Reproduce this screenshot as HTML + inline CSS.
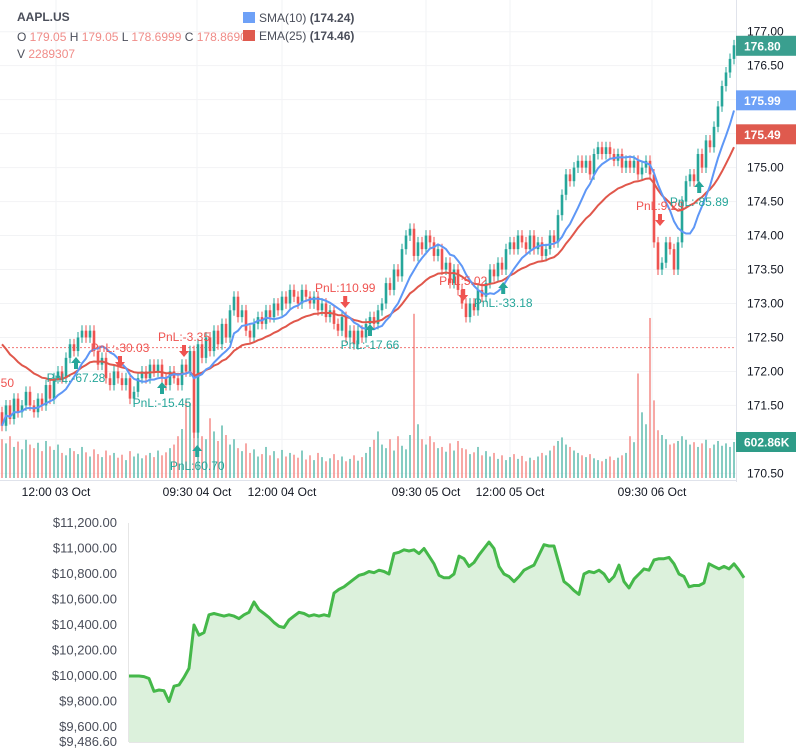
<!DOCTYPE html>
<html><head><meta charset="utf-8">
<style>
html,body{margin:0;padding:0;background:#fff;width:796px;height:750px;overflow:hidden;font-family:"Liberation Sans",sans-serif;}
svg{display:block}
</style></head>
<body>
<svg id="chart" width="796" height="750" xmlns="http://www.w3.org/2000/svg"></svg>
<script>
// ---- data ----
const closes=[171.2,171.5,171.3,171.6,171.4,171.5,171.7,171.5,171.4,171.6,171.5,171.8,171.6,171.9,172.0,171.9,172.2,172.4,172.3,172.5,
172.6,172.5,172.6,172.3,172.1,172.2,171.9,171.8,172.0,171.9,171.8,171.9,171.6,171.7,171.9,172.0,171.9,172.1,172.0,172.1,
171.9,171.8,172.0,171.9,171.8,172.1,172.0,172.3,171.1,172.4,172.2,172.5,172.3,172.6,172.4,172.7,172.5,172.9,173.1,172.8,
172.9,172.6,172.5,172.7,172.8,172.7,172.9,172.8,173.0,172.9,173.1,173.0,173.2,173.1,173.0,173.2,173.1,173.0,173.1,172.9,
173.0,172.8,172.9,172.7,172.6,172.8,172.5,172.6,172.4,172.6,172.5,172.7,172.8,172.7,172.9,173.0,173.3,173.2,173.5,173.4,
173.8,174.0,174.1,173.7,173.9,173.8,174.0,173.9,173.7,173.8,173.5,173.6,173.3,173.5,173.2,173.0,172.8,173.0,172.9,173.2,
173.1,173.3,173.5,173.4,173.6,173.5,173.8,173.9,173.8,174.0,173.9,173.8,174.0,173.8,173.9,173.7,173.8,174.0,173.9,174.3,
174.6,174.9,174.8,175.0,175.1,175.0,175.1,174.9,175.2,175.3,175.2,175.3,175.2,175.1,175.2,175.0,175.1,175.0,175.1,174.9,
175.0,175.1,174.9,173.9,173.5,173.6,173.9,173.8,173.5,173.9,174.5,174.8,174.9,174.8,175.2,175.0,175.4,175.3,175.6,175.9,
176.2,176.4,176.6,176.8];
const firstOpen=171.4;
const volumes=[650,580,700,520,610,480,640,560,500,590,450,620,530,470,560,420,380,500,450,400,
520,430,360,480,400,350,460,380,420,340,390,300,450,360,410,330,380,420,350,460,
380,430,500,560,700,820,1300,1250,1500,900,700,650,1000,780,620,880,720,560,650,500,
450,580,420,480,360,400,520,380,450,330,470,360,420,390,340,460,310,380,300,420,
350,280,330,400,300,360,280,320,380,290,350,420,520,640,780,560,500,650,460,700,
540,480,720,2750,900,650,560,700,600,500,520,440,580,460,620,500,480,400,430,520,
380,450,360,420,320,380,300,350,400,320,370,280,340,300,360,420,380,460,540,620,
680,560,520,460,420,380,350,400,330,300,280,320,360,300,340,380,420,700,600,1750,
1100,900,2680,1300,800,720,650,560,580,620,700,640,560,600,520,580,640,500,560,620,
540,580,520,603];
const timeLabels=["12:00 03 Oct","09:30 04 Oct","12:00 04 Oct","09:30 05 Oct","12:00 05 Oct","09:30 06 Oct"];
const timeIdx=[13.5,48.75,70,106,127,162.5];
const priceTicks=[170.5,171,171.5,172,172.5,173,173.5,174,174.5,175,175.5,176,176.5,177];
const trades=[
 {i:-3,side:"sell",label:"PnL:1.50"},{i:18.5,side:"buy",label:"PnL:-67.28"},{i:29.5,side:"sell",label:"PnL:-30.03"},
 {i:40,side:"buy",label:"PnL:-15.45"},{i:45.5,side:"sell",label:"PnL:-3.35"},{i:48.8,side:"buy",label:"PnL:60.70"},
 {i:85.8,side:"sell",label:"PnL:110.99"},{i:92,side:"buy",label:"PnL:-17.66"},{i:115.3,side:"sell",label:"PnL:5.02"},
 {i:125.3,side:"buy",label:"PnL:-33.18"},{i:164.5,side:"sell",label:"PnL:9.29"},{i:174.3,side:"buy",label:"PnL:-85.89"}];
const tradeY=[397,363,362,388,351,451,302,330,295,288,220,187];
const equity=[10000,10000,10000,9995,9980,9880,9890,9885,9800,9920,9930,9990,10060,10400,10320,10340,10480,10490,10480,10470,
10480,10470,10450,10480,10500,10580,10520,10490,10460,10420,10390,10380,10440,10470,10500,10490,10470,10480,10470,10480,
10470,10650,10680,10700,10730,10760,10790,10800,10820,10810,10830,10820,10800,10960,10970,10990,10980,10990,10960,11000,
10940,10880,10790,10770,10770,10800,10940,10920,10860,10890,10950,11000,11050,11000,10860,10800,10780,10740,10780,10830,
10850,10870,10950,11030,11020,11020,10880,10740,10710,10670,10640,10800,10820,10810,10830,10800,10740,10780,10870,10740,
10690,10760,10800,10840,10830,10910,10920,10920,10930,10880,10800,10780,10700,10710,10710,10730,10880,10860,10840,10860,
10840,10880,10830,10770];
const eqTicks=[9600,9800,10000,10200,10400,10600,10800,11000,11200];

// ---- helpers ----
const svg=document.getElementById('chart');
const NS="http://www.w3.org/2000/svg";
function mk(tag,attrs,parent){const e=document.createElementNS(NS,tag);for(const k in attrs)e.setAttribute(k,attrs[k]);(parent||svg).appendChild(e);return e;}
const PW=736;
const xBar=i=>2+i*4;
const yP=p=>31.7+(177-p)*67.95;
const yV=v=>478-v/602.86*36;
const GREEN="#26a69a",RED="#ef5350";

for(const t of priceTicks){const g=mk('line',{x1:0,x2:PW,y1:yP(t),y2:yP(t),stroke:"#f2f3f5","stroke-width":1});
}
timeIdx.forEach(ix=>{const g=mk('line',{x1:xBar(ix),x2:xBar(ix),y1:0,y2:480,stroke:"#f2f3f5"});
});

const volG=mk('g',{});
closes.forEach((c,i)=>{const o=i?closes[i-1]:firstOpen;const up=c>=o;
 const r=mk('rect',{x:xBar(i)-0.8,y:yV(volumes[i]),width:1.6,height:478-yV(volumes[i]),fill:up?"#68c0b4":"#f5928f"},volG);
 });

const dl=mk('line',{x1:0,x2:PW,y1:yP(172.35),y2:yP(172.35),stroke:"#ef5350","stroke-dasharray":"2,2","stroke-width":1,opacity:0.8});


const cG=mk('g',{});
closes.forEach((c,i)=>{const o=i?closes[i-1]:firstOpen;const up=c>=o;const col=up?GREEN:RED;
 const hi=Math.max(o,c)+0.08,lo=Math.min(o,c)-0.08;
 const w=mk('line',{x1:xBar(i),x2:xBar(i),y1:yP(hi),y2:yP(lo),stroke:col,"stroke-width":1},cG);
 
 const top=yP(Math.max(o,c)),h=Math.max(1,Math.abs(yP(o)-yP(c)));
 const b=mk('rect',{x:xBar(i)-1.3,y:top,width:2.6,height:h,fill:col},cG);
 });

let sma=[],ema=[];let e=172.5;const k=2/26;
closes.forEach((c,i)=>{const s=closes.slice(Math.max(0,i-9),i+1);sma.push(s.reduce((a,b)=>a+b,0)/s.length);e=c*k+e*(1-k);ema.push(e);});
const line=(arr)=>arr.map((v,i)=>(i?'L':'M')+xBar(i).toFixed(1)+','+yP(v).toFixed(1)).join('');
const emaP=mk('path',{d:line(ema),fill:"none",stroke:"#e0574b","stroke-width":2});

const smaP=mk('path',{d:line(sma),fill:"none",stroke:"#5e97f6","stroke-width":2});


trades.forEach((t,j)=>{const x=xBar(t.i),y=tradeY[j];const col=t.side==="buy"?GREEN:RED;
 const g=mk('g',{});
 if(t.side==="buy"){mk('path',{d:`M${x},${y-6} L${x+5},${y} L${x+2},${y} L${x+2},${y+6} L${x-2},${y+6} L${x-2},${y} L${x-5},${y}Z`,fill:col},g);
  const tx=mk('text',{x:x,y:y+19,fill:col,"font-size":12,"text-anchor":"middle","font-family":"Liberation Sans, sans-serif"},g);tx.textContent=t.label;}
 else{mk('path',{d:`M${x},${y+6} L${x+5},${y} L${x+2},${y} L${x+2},${y-6} L${x-2},${y-6} L${x-2},${y} L${x-5},${y}Z`,fill:col},g);
  const tx=mk('text',{x:x,y:y-10,fill:col,"font-size":12,"text-anchor":"middle","font-family":"Liberation Sans, sans-serif"},g);tx.textContent=t.label;}
});

const ax=mk('g',{});
mk('rect',{x:PW,y:0,width:60,height:482,fill:"#fff"},ax);
mk('line',{x1:PW+0.5,x2:PW+0.5,y1:0,y2:482,stroke:"#e0e3eb"},ax);
for(const t of priceTicks){const tx=mk('text',{x:747,y:yP(t)+4,fill:"#131722","font-size":12},ax);tx.textContent=t.toFixed(2);
 }
function badge(y,txt,col,name){const g=mk('g',{},ax);
 mk('rect',{x:PW,y:y-10,width:60,height:20,fill:col},g);
 const t=mk('text',{x:744,y:y+4.5,fill:"#fff","font-size":12,"font-weight":"bold"},g);t.textContent=txt;}
badge(yP(176.8)+0.5,"176.80","#3a9f8f",'last-price-badge');
badge(yP(175.99),"175.99","#6ea1f7",'sma-value-badge');
badge(yP(175.49),"175.49","#df5a4e",'ema-value-badge');
badge(442,"602.86K","#2e9c88",'volume-value-badge');

const tl=mk('line',{x1:0,x2:PW,y1:480.5,y2:480.5,stroke:"#e0e3eb"});

timeLabels.forEach((s,j)=>{const t=mk('text',{x:xBar(timeIdx[j]),y:496,fill:"#131722","font-size":12,"text-anchor":"middle"});t.textContent=s;
 });

const lg=mk('g',{});
let t=mk('text',{x:17,y:21,fill:"#4a4e5a","font-size":12,"font-weight":"bold"},lg);t.textContent="AAPL.US";

t=mk('text',{x:17,y:41,"font-size":12,fill:"#4a4e5a"},lg);
t.innerHTML='O <tspan fill="#f08c88">179.05</tspan> H <tspan fill="#f08c88">179.05</tspan> L <tspan fill="#f08c88">178.6999</tspan> C <tspan fill="#f08c88">178.8690</tspan>';

t=mk('text',{x:17,y:58,"font-size":12,fill:"#4a4e5a"},lg);t.innerHTML='V <tspan fill="#f08c88">2289307</tspan>';

mk('rect',{x:243,y:12,width:12,height:11,fill:"#6ea1f7"},lg);
t=mk('text',{x:259,y:22,"font-size":12,fill:"#4a4e5a"},lg);t.innerHTML='SMA(10)  <tspan font-weight="bold">(174.24)</tspan>';

mk('rect',{x:243,y:30,width:12,height:11,fill:"#df5a4e"},lg);
t=mk('text',{x:259,y:40,"font-size":12,fill:"#4a4e5a"},lg);t.innerHTML='EMA(25)  <tspan font-weight="bold">(174.46)</tspan>';


const EX0=129,EX1=744,EYB=742;
const yE=v=>676-(v-10000)*0.1275;
const xE=i=>EX0+i*(EX1-EX0)/(equity.length-1);
const eg=mk('g',{});
eqTicks.forEach(v=>{const tx=mk('text',{x:117,y:yE(v)+4,fill:"#4a4e5a","font-size":13,"text-anchor":"end"},eg);
 tx.textContent="$"+v.toLocaleString('en-US',{minimumFractionDigits:2});});
let bl=mk('text',{x:117,y:746,fill:"#4a4e5a","font-size":13,"text-anchor":"end"},eg);bl.textContent="$9,486.60";

mk('line',{x1:128.5,x2:128.5,y1:523,y2:EYB,stroke:"#e6e6e6"},eg);
const ed=equity.map((v,i)=>(i?'L':'M')+xE(i).toFixed(1)+','+yE(v).toFixed(1)).join('');
const ea=mk('path',{d:ed+`L${EX1},${EYB}L${EX0},${EYB}Z`,fill:"#dcf1dc"},eg);

const el=mk('path',{d:ed,fill:"none",stroke:"#45b84a","stroke-width":3,"stroke-linejoin":"round"},eg);

mk('line',{x1:EX0,x2:EX1,y1:EYB+0.5,y2:EYB+0.5,stroke:"#e6e6e6"},eg);
</script>
</body></html>
